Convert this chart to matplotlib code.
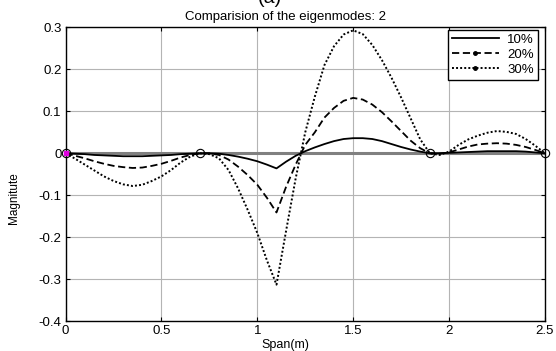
import matplotlib
matplotlib.use("Agg")
import matplotlib.pyplot as plt
from matplotlib.lines import Line2D

plt.rcParams['font.family'] = ['Liberation Sans', 'DejaVu Sans']

span = [0, 0.05, 0.1, 0.15, 0.2, 0.25, 0.3, 0.35, 0.4, 0.45, 0.5, 0.55, 0.6, 0.65, 0.7,
        0.75, 0.8, 0.85, 0.9, 0.95, 1.0, 1.05, 1.1, 1.15, 1.2, 1.25, 1.3, 1.35, 1.4, 1.45,
        1.5, 1.55, 1.6, 1.65, 1.7, 1.75, 1.8, 1.85, 1.9, 1.95, 2.0, 2.05, 2.1, 2.15, 2.2,
        2.25, 2.3, 2.35, 2.4, 2.45, 2.5]

mode_10 = [0, -0.001, -0.002, -0.004, -0.005, -0.006, -0.007, -0.007, -0.007, -0.006, -0.005,
           -0.004, -0.002, -0.001, 0.0,
           0.0, -0.001, -0.004, -0.008, -0.013, -0.019, -0.027, -0.036, -0.02, -0.006,
           0.005, 0.014, 0.022, 0.029, 0.034, 0.036, 0.036, 0.034, 0.029, 0.022, 0.015,
           0.009, 0.004, 0.0,
           0.0, 0.001, 0.002, 0.003, 0.004, 0.005, 0.005, 0.005, 0.005, 0.004, 0.002, 0.0]

mode_20 = [0, -0.006, -0.012, -0.019, -0.025, -0.030, -0.033, -0.035, -0.034, -0.030, -0.025,
           -0.018, -0.010, -0.004, 0.0,
           0.0, -0.004, -0.015, -0.032, -0.052, -0.075, -0.106, -0.141, -0.08, -0.027,
           0.02, 0.05, 0.085, 0.108, 0.125, 0.132, 0.128, 0.116, 0.098, 0.076, 0.053,
           0.03, 0.012, 0.0,
           -0.001, 0.002, 0.009, 0.016, 0.021, 0.023, 0.024, 0.023, 0.02, 0.015, 0.008, 0.0]

mode_30 = [0, -0.013, -0.027, -0.041, -0.055, -0.066, -0.074, -0.078, -0.075, -0.066, -0.055,
           -0.040, -0.022, -0.008, 0.0,
           -0.002, -0.012, -0.04, -0.084, -0.135, -0.19, -0.255, -0.313, -0.185, -0.06,
           0.05, 0.135, 0.21, 0.255, 0.283, 0.293, 0.284, 0.258, 0.222, 0.18, 0.133,
           0.083, 0.033, 0.0,
           -0.004, 0.004, 0.02, 0.033, 0.042, 0.049, 0.053, 0.051, 0.046, 0.034, 0.018, 0.0]

node_x = [0, 0.7, 1.9, 2.5]
node_y = [0, 0, 0, 0]

series_labels = ['10%', '20%', '30%']
x_ticks = [0, 0.5, 1, 1.5, 2, 2.5]
x_tick_labels = ['0', '0.5', '1', '1.5', '2', '2.5']
y_ticks = [0.3, 0.2, 0.1, 0, -0.1, -0.2, -0.3, -0.4]
y_tick_labels = ['0.3', '0.2', '0.1', '0', '-0.1', '-0.2', '-0.3', '-0.4']

fig = plt.figure(figsize=(5.56, 3.51), dpi=100)
ax = fig.add_axes([0.118, 0.085, 0.862, 0.837])

ax.grid(True, color='#b4b4b4', linewidth=0.8, linestyle='-')
ax.set_axisbelow(True)
ax.axhline(0, color='#808080', linewidth=2.2, zorder=1.5)

ax.plot(span, mode_10, color='black', linestyle='-', linewidth=1.3, zorder=3)
ax.plot(span, mode_20, color='black', linestyle=(0, (4, 2)), linewidth=1.3, zorder=3)
ax.plot(span, mode_30, color='black', linestyle=(0, (1, 1.1)), linewidth=1.4, zorder=3)

ax.plot(node_x, node_y, linestyle='none', marker='o', markersize=6, markerfacecolor='none',
        markeredgecolor='black', markeredgewidth=0.8, clip_on=False, zorder=4)
ax.plot(node_x[:1], node_y[:1], linestyle='none', marker='s', markersize=3,
        color='#e000e0', clip_on=False, zorder=5)

ax.set_xlim(0, 2.5)
ax.set_ylim(-0.4, 0.3)
ax.set_xticks(x_ticks)
ax.set_xticklabels(x_tick_labels)
ax.set_yticks(y_ticks)
ax.set_yticklabels(y_tick_labels)
ax.tick_params(direction='in', length=3, width=0.8, top=True, right=True,
               labelsize=9.5, pad=3)
for s in ax.spines.values():
    s.set_linewidth(1.0)

ax.set_title('Comparision of the eigenmodes: 2', fontsize=9.5, pad=5, x=0.458)
ax.set_xlabel('Span(m)', fontsize=9, labelpad=1)
ax.xaxis.set_label_coords(0.458, -0.06)
ax.set_ylabel('Magnitute', fontsize=8.5)
ax.yaxis.set_label_coords(-0.095, 0.42)
fig.text(0.485, 1.005, '(a)', fontsize=14, ha='center', va='center')

handles = [
    Line2D([], [], color='black', linestyle='-', linewidth=1.3),
    Line2D([], [], color='black', linestyle=(0, (4, 2)), linewidth=1.3, marker='.', markersize=5),
    Line2D([], [], color='black', linestyle=(0, (1, 1.1)), linewidth=1.4, marker='.', markersize=5),
]
leg = ax.legend(handles, series_labels, loc='upper right', bbox_to_anchor=(0.985, 0.992),
                fontsize=9.5, frameon=True, fancybox=False, framealpha=1, edgecolor='black',
                handlelength=3.6, borderpad=0.3, labelspacing=0.2, handletextpad=0.6,
                borderaxespad=0)
leg.get_frame().set_linewidth(1.0)

fig.savefig('out.png', dpi=100)
